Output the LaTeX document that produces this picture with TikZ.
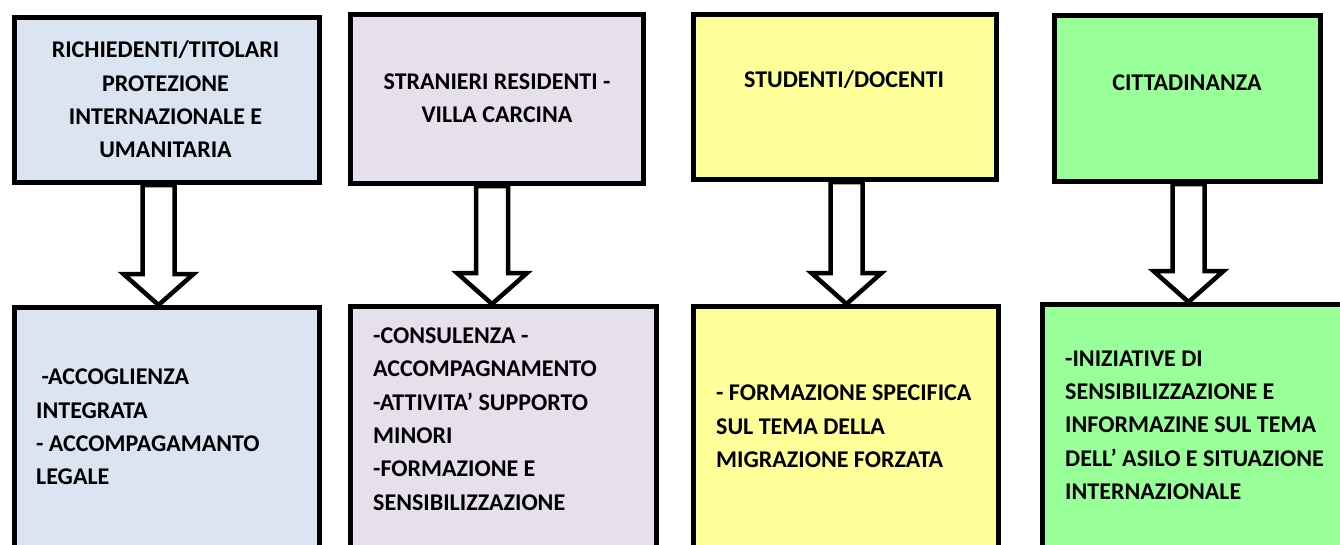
\documentclass[tikz,border=0pt]{standalone}
\usepackage{fontspec}
\setmainfont{Carlito}
\usepackage{tikz}
\usepackage{xcolor}
\usetikzlibrary{calc}
\definecolor{box-blue}{HTML}{DBE5F1}
\definecolor{box-lilac}{HTML}{E5E0EC}
\definecolor{box-yellow}{HTML}{FFFF99}
\definecolor{box-green}{HTML}{99FF99}
\tikzset{
    group-box/.style = {draw=black, line width=5pt, rectangle, inner sep=0pt},
    group-title/.style = {font=\bfseries\fontsize{24}{33.3}\selectfont, align=center, inner sep=0pt},
    service-text/.style = {font=\bfseries\fontsize{24}{33.3}\selectfont, align=left, anchor=west, inner sep=0pt},
    hollow-arrow/.style = {draw=black, fill=white, line width=4.5pt, miter limit=10},
}
\newcommand{\hollowarrow}[3]{%
    \draw[hollow-arrow] let \p1 = (#1.south), \p2 = (#2.north) in
        (#3-16pt,\y1) -- (#3+16pt,\y1) -- (#3+16pt,\y2+31pt) -- (#3+35pt,\y2+31pt)
        -- (#3,\y2) -- (#3-35pt,\y2+31pt) -- (#3-16pt,\y2+31pt) -- cycle;}

\begin{document}
\begin{tikzpicture}[x=1pt, y=-1pt]
\useasboundingbox (0,0) rectangle (1340,544);
\clip (0,0) rectangle (1340,544);

\node [group-box, fill=box-blue, minimum width=305pt, minimum height=165pt] (rich) at (167,100) {};
\node [group-box, fill=box-lilac, minimum width=293pt, minimum height=169pt] (stran) at (497,99) {};
\node [group-box, fill=box-yellow, minimum width=303pt, minimum height=165pt] (stud) at (845,97) {};
\node [group-box, fill=box-green, minimum width=266pt, minimum height=166pt] (citt) at (1187.5,98.5) {};

\node [group-title] (rich-title) at (165.5,99.5) {RICHIEDENTI/TITOLARI\\PROTEZIONE\\INTERNAZIONALE E\\UMANITARIA};
\node [group-title] (stran-title) at (497,98.5) {STRANIERI RESIDENTI -\\VILLA CARCINA};
\node [group-title] (stud-title) at (844,80) {STUDENTI/DOCENTI};
\node [group-title] (citt-title) at (1187,83) {CITTADINANZA};

\node [group-box, fill=box-blue, minimum width=305pt, minimum height=267.5pt] (rich-serv) at (167,441.25) {};
\node [group-box, fill=box-lilac, minimum width=306pt, minimum height=268.5pt] (stran-serv) at (503.5,440.75) {};
\node [group-box, fill=box-yellow, minimum width=305pt, minimum height=268.5pt] (stud-serv) at (846,440.75) {};
\node [group-box, fill=box-green, minimum width=337.5pt, minimum height=270.5pt] (citt-serv) at (1211.25,439.75) {};

\node [service-text] (rich-list) at (36,427) {~-ACCOGLIENZA\\INTEGRATA\\- ACCOMPAGAMANTO\\LEGALE};
\node [service-text] (stran-list) at (373,419) {-CONSULENZA -\\ACCOMPAGNAMENTO\\-ATTIVITA’ SUPPORTO\\MINORI\\-FORMAZIONE E\\SENSIBILIZZAZIONE};
\node [service-text] (stud-list) at (716,426.5) {- FORMAZIONE SPECIFICA\\SUL TEMA DELLA\\MIGRAZIONE FORZATA};
\node [service-text] (citt-list) at (1065,425) {-INIZIATIVE DI\\SENSIBILIZZAZIONE E\\INFORMAZINE SUL TEMA\\DELL’ ASILO E SITUAZIONE\\INTERNAZIONALE};

\hollowarrow{rich}{rich-serv}{158.5pt}
\hollowarrow{stran}{stran-serv}{492pt}
\hollowarrow{stud}{stud-serv}{846.5pt}
\hollowarrow{citt}{citt-serv}{1188.5pt}
\end{tikzpicture}
\end{document}
